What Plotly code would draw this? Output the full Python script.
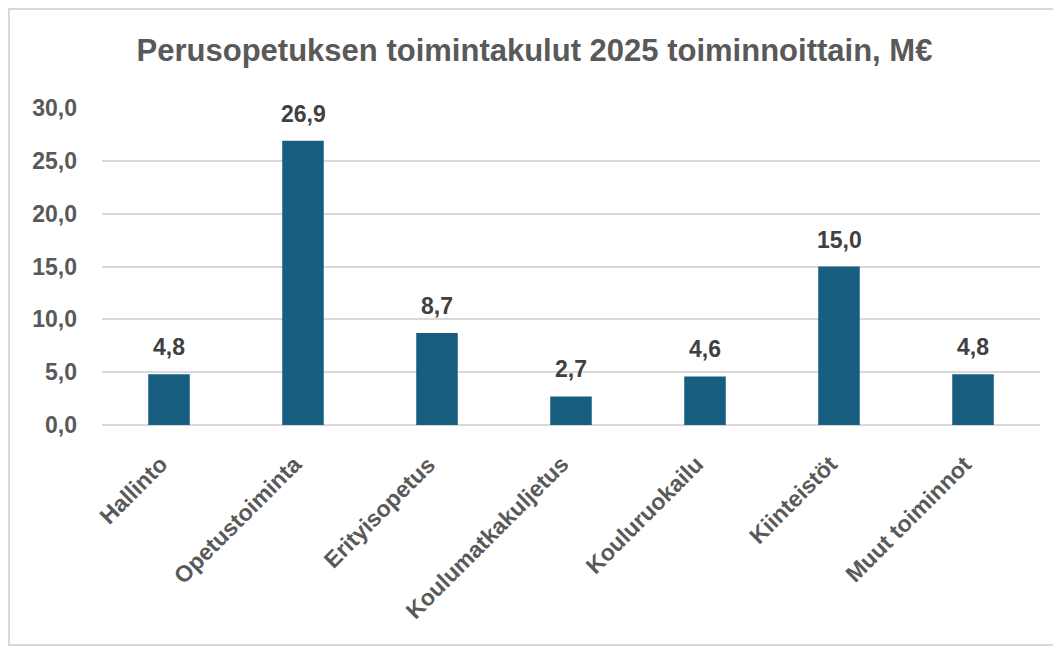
import plotly.graph_objects as go

categories = ["Hallinto", "Opetustoiminta", "Erityisopetus", "Koulumatkakuljetus",
              "Kouluruokailu", "Kiinteistöt", "Muut toiminnot"]
values = [4.8, 26.9, 8.7, 2.7, 4.6, 15.0, 4.8]
title_text = "Perusopetuksen toimintakulut 2025 toiminnoittain, M€"
y_ticks = [0, 5, 10, 15, 20, 25, 30]

BAR = "#175e81"
TXT = "#595959"
LBL = "#404040"
FONT = "Liberation Sans, Arial, sans-serif"

fig = go.Figure()
fig.add_trace(go.Bar(x=categories, y=values, marker=dict(color=BAR, line=dict(width=0)),
                     width=0.31, hoverinfo="skip"))

for c, v in zip(categories, values):
    fig.add_annotation(x=c, y=v, text=f"{v:.1f}".replace(".", ","), showarrow=False,
                       yanchor="bottom", yshift=12,
                       font=dict(family=FONT, size=23, color=LBL, weight="bold"))

# rotated category labels (top-right corner at the tick)
for c in categories:
    fig.add_annotation(x=c, y=0, text=c, showarrow=False, textangle=-45,
                       xanchor="right", yanchor="top", yshift=-23, xshift=6,
                       font=dict(family=FONT, size=23, color=TXT, weight="bold"))

# page body has an 8px margin, so figure is offset by 8px
W, H = 1053, 638
L, R, T, B = 94, 21, 100, 221
pw, ph = W - L - R, H - T - B
fig.add_shape(type="rect", xref="paper", yref="paper",
              x0=(1 - L) / pw, x1=(W + 20 - L) / pw,
              y0=(H - B - 637) / ph, y1=(H - B - 1) / ph,
              line=dict(color="#d9d9d9", width=2), fillcolor="rgba(0,0,0,0)", layer="below")

fig.update_layout(
    width=W, height=H,
    margin=dict(l=L, r=R, t=T, b=B),
    paper_bgcolor="white", plot_bgcolor="white",
    separators=", ",
    showlegend=False,
    title=dict(text=title_text, x=0.5, xref="container", xanchor="center",
               y=1 - 42 / H, yanchor="middle",
               font=dict(family="Liberation Sans Narrow, Arial Narrow, sans-serif",
                         size=31, color=TXT, weight="bold")),
    xaxis=dict(showticklabels=False, range=[-0.5, 6.5], autorange=False,
               showgrid=False, zeroline=False, showline=False, ticks=""),
    yaxis=dict(range=[0, 30], tickvals=y_ticks, tickformat=".1f",
               tickfont=dict(family=FONT, size=23, color=TXT, weight="bold"),
               showgrid=True, gridcolor="#d9d9d9", gridwidth=2,
               zeroline=True, zerolinecolor="#d9d9d9", zerolinewidth=2,
               showline=False, ticks="", ticklabelstandoff=24),
)

fig.write_html("out.html")
